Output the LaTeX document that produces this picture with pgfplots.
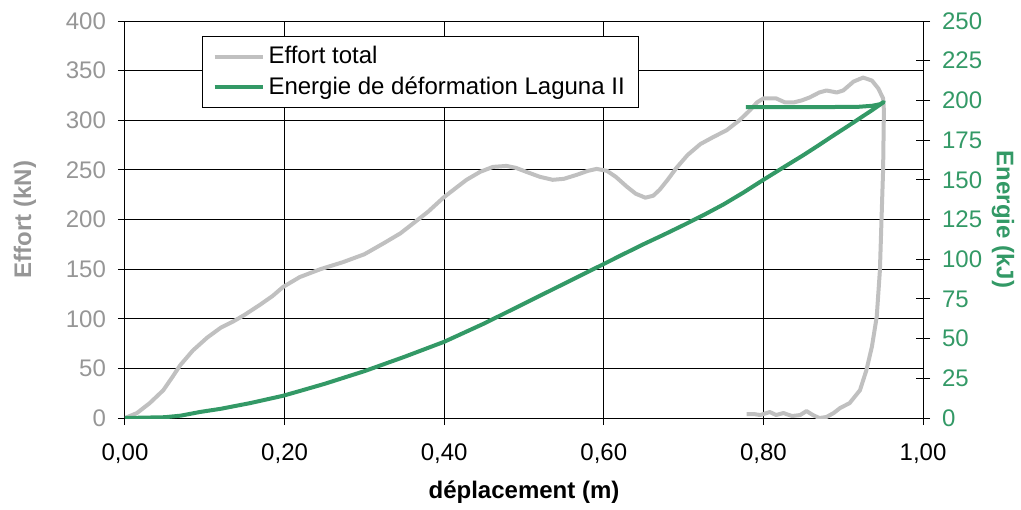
\documentclass[border=0pt]{standalone}
\usepackage{pgfplots}
\pgfplotsset{compat=1.18}
\usepackage{fontspec}
\setmainfont{Liberation Sans}

\definecolor{efgray}{RGB}{192,192,192}
\definecolor{tkgray}{RGB}{150,150,150}
\definecolor{engreen}{RGB}{51,153,102}

% Effort total (kN) against displacement (m)
\pgfplotstableread{
x y
0.000 0
0.015 5
0.031 15
0.048 28
0.060 42
0.069 53
0.085 68
0.103 81
0.120 91
0.135 97
0.150 104
0.169 114
0.185 123
0.198 132
0.219 142
0.245 150
0.273 157
0.300 165
0.324 176
0.345 186
0.361 196
0.380 208
0.399 222
0.415 232
0.428 240
0.445 248
0.461 253
0.478 254
0.490 252
0.503 248
0.520 243
0.536 240
0.550 241
0.566 245
0.580 249
0.591 251
0.604 249
0.615 243
0.629 233
0.640 226
0.652 222
0.662 224
0.670 230
0.680 240
0.691 252
0.705 265
0.721 276
0.737 283
0.754 290
0.770 300
0.783 310
0.792 318
0.800 322
0.816 322
0.827 318
0.838 318
0.848 320
0.858 323
0.870 328
0.879 330
0.892 328
0.900 330
0.913 339
0.925 343
0.936 340
0.944 332
0.950 322
0.951 310
0.950 250
0.948 200
0.946 149
0.942 102
0.936 72
0.929 48
0.921 28
0.908 15
0.896 10
0.888 5
0.879 1
0.870 0
0.862 3
0.854 7
0.846 3
0.836 2
0.825 5
0.816 3
0.808 6
0.796 3
0.788 4
0.779 4
}\effort

% Deformation energy (kJ)
\pgfplotstableread{
x y
0.000 0
0.050 0.5
0.070 1.5
0.094 3.8
0.120 5.8
0.157 9.4
0.198 14
0.219 17
0.250 21.5
0.300 29.5
0.350 38.5
0.400 48
0.450 59.5
0.500 72
0.550 84.5
0.600 97
0.625 103.3
0.650 109.5
0.675 115.4
0.700 121.5
0.725 127.8
0.750 134.5
0.775 142
0.800 150
0.825 157.8
0.850 165.5
0.870 172
0.888 178
0.905 183.5
0.920 188.5
0.936 193.8
0.951 199
0.946 197.6
0.936 196.6
0.920 196
0.880 195.8
0.778 195.8
}\energie

\begin{document}
\begin{tikzpicture}
\pgfplotsset{
  common/.style={
    scale only axis, width=399pt, height=198.5pt,
    xmin=0, xmax=1,
    font=\fontsize{12}{14}\selectfont,
    /pgf/number format/assume math mode=true,
    scaled ticks=false,
  }
}
\begin{axis}[common,
  ymin=0, ymax=400,
  xtick={0,0.2,0.4,0.6,0.8,1},
  ytick={0,50,...,400},
  xtick pos=left, ytick pos=left,
  tick align=outside, major tick length=3.5pt,
  tick style={black, line width=0.5pt},
  grid=major, grid style={black, line width=0.5pt},
  axis line style={black, line width=0.5pt},
  xticklabel style={yshift=-6pt, /pgf/number format/.cd, fixed, fixed zerofill, precision=2, use comma},
  yticklabel style={text=tkgray, xshift=-2.5pt},
  xlabel={\bfseries déplacement (m)},
  xlabel style={at={(axis description cs:0.5,-0.1864)}, anchor=center},
  ylabel={\bfseries Effort (kN)},
  ylabel style={at={(axis description cs:-0.1253,0.5)}, anchor=center, text=tkgray},
]
\addplot[efgray, line width=2pt, line join=round] table {\effort};
\end{axis}

\begin{axis}[common,
  ymin=0, ymax=250,
  ytick={0,25,...,250},
  axis x line=none,
  axis y line*=right,
  tick align=center, major tick length=7pt,
  tick style={black, line width=0.5pt},
  axis line style={black, line width=0.5pt},
  yticklabel style={text=engreen, xshift=2.5pt},
  ylabel={\bfseries Energie (kJ)},
  ylabel style={at={(axis description cs:1.1003,0.5)}, anchor=center, rotate=180, text=engreen},
  legend style={at={(rel axis cs:0.0965,0.962)}, anchor=north west,
    draw=black, line width=0.5pt, fill=white,
    font=\fontsize{12}{14}\selectfont, text=black,
    inner xsep=5pt, inner ysep=3pt, row sep=1pt},
  legend cell align=left,
  legend image code/.code={\draw[#1] (0pt,0pt) -- (24pt,0pt);},
]
\addlegendimage{efgray, line width=2pt}
\addlegendentry{Effort total}
\addplot[engreen, line width=2pt, line join=round] table {\energie};
\addlegendentry{Energie de déformation Laguna II}
\end{axis}

\useasboundingbox (-62.5pt,-45pt) rectangle (448pt,209pt);
\end{tikzpicture}
\end{document}
